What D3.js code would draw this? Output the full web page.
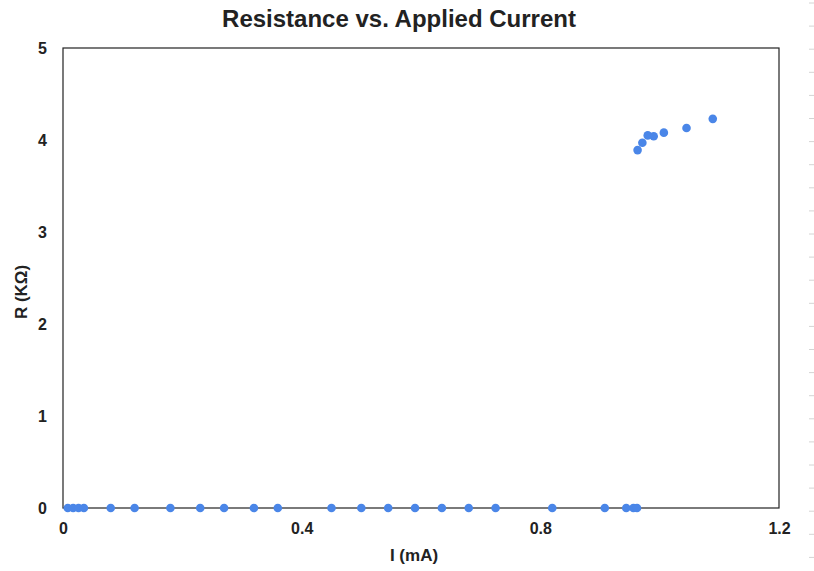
<!DOCTYPE html>
<html>
<head>
<meta charset="utf-8">
<script src="https://cdn.jsdelivr.net/npm/d3@7"></script>
<style>
body { margin: 0; background: #fff; }
text { font-family: "Liberation Sans", Arial, sans-serif; }
</style>
</head>
<body>
<div id="chart"></div>
<script>
// current (mA) and resistance (KOhm) readings
var current = [0.008, 0.017, 0.026, 0.035, 0.08, 0.12, 0.18, 0.23, 0.27, 0.32, 0.36,
	0.45, 0.50, 0.545, 0.59, 0.635, 0.68, 0.725, 0.82, 0.908, 0.944, 0.956, 0.962,
	0.963, 0.971, 0.980, 0.990, 1.007, 1.045, 1.089];
var resistance = [0, 0, 0, 0, 0, 0, 0, 0, 0, 0, 0,
	0, 0, 0, 0, 0, 0, 0, 0, 0, 0, 0, 0,
	3.89, 3.97, 4.05, 4.04, 4.08, 4.13, 4.23];
var xTicks = [0, 0.4, 0.8, 1.2];
var yTicks = [0, 1, 2, 3, 4, 5];

var width = 814, height = 571;
var margin = {left: 63, right: 35, top: 48, bottom: 63};

var svg = d3.select("#chart")
	.append("svg")
	.attr("width", width)
	.attr("height", height);

var x = d3.scaleLinear().domain([0, 1.2]).range([margin.left, width - margin.right]);
var y = d3.scaleLinear().domain([0, 5]).range([height - margin.bottom, margin.top]);

// faint row marks along the right edge (spreadsheet gridline residue)
var rows = d3.range(3, height, 23.1);
svg.selectAll(".rowmark")
	.data(rows)
	.enter().append("line")
	.attr("x1", 809).attr("x2", 814)
	.attr("y1", function(d) { return d; })
	.attr("y2", function(d) { return d; })
	.style("stroke", "#d4d4d4");

// plot frame
svg.append("rect")
	.attr("x", x(0))
	.attr("y", y(5))
	.attr("width", x(1.2) - x(0))
	.attr("height", y(0) - y(5))
	.style("fill", "none")
	.style("stroke", "#222")
	.style("stroke-width", 1.2);

var xAxis = svg.append("g")
	.attr("transform", "translate(0," + y(0) + ")")
	.call(d3.axisBottom(x).tickValues(xTicks).tickSize(0).tickPadding(15)
		.tickFormat(function(d) { return d === 0 ? "0" : d3.format(".1f")(d); }));
xAxis.select(".domain").remove();
xAxis.selectAll("text")
	.style("font-size", "16px")
	.style("font-weight", "bold")
	.style("font-family", "'Liberation Sans', Arial, sans-serif")
	.style("fill", "#222");

var yAxis = svg.append("g")
	.attr("transform", "translate(" + x(0) + ",0)")
	.call(d3.axisLeft(y).tickValues(yTicks).tickSize(0).tickPadding(16)
		.tickFormat(d3.format("d")));
yAxis.select(".domain").remove();
yAxis.selectAll("text")
	.style("font-size", "16px")
	.style("font-weight", "bold")
	.style("font-family", "'Liberation Sans', Arial, sans-serif")
	.style("fill", "#222");

var points = current.map(function(c, i) { return {i: c, r: resistance[i]}; });

svg.selectAll(".dot")
	.data(points)
	.enter().append("circle")
	.attr("class", "dot")
	.attr("cx", function(d) { return x(d.i); })
	.attr("cy", function(d) { return y(d.r); })
	.attr("r", 4.3)
	.style("fill", "#4a86e8");

svg.append("text")
	.attr("x", 399)
	.attr("y", 27)
	.attr("text-anchor", "middle")
	.style("font-size", "24px")
	.style("font-weight", "bold")
	.style("fill", "#222")
	.text("Resistance vs. Applied Current");

svg.append("text")
	.attr("x", 414)
	.attr("y", 561)
	.attr("text-anchor", "middle")
	.style("font-size", "17px")
	.style("font-weight", "bold")
	.style("fill", "#222")
	.text("I (mA)");

svg.append("text")
	.attr("transform", "translate(27,292) rotate(-90)")
	.attr("text-anchor", "middle")
	.style("font-size", "17px")
	.style("font-weight", "bold")
	.style("fill", "#222")
	.text("R (KΩ)");
</script>
</body>
</html>
